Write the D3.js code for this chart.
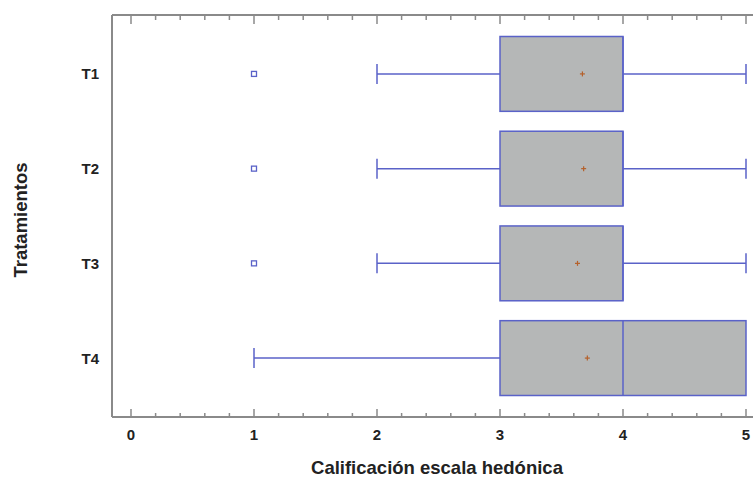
<!DOCTYPE html>
<html><head><meta charset="utf-8">
<script src="https://cdn.jsdelivr.net/npm/d3@7"></script>
<style>body{margin:0;background:#fff}svg{display:block}text{font-family:"Liberation Sans",Arial,sans-serif;font-weight:bold;fill:#222}</style>
</head><body><svg id="c" width="753" height="482"></svg>
<script>
const categories = ["T1","T2","T3","T4"];
const whiskerLow = [2,2,2,1];
const q1 = [3,3,3,3];
const median = [4,4,4,4];
const q3 = [4,4,4,5];
const whiskerHigh = [5,5,5,5];
const means = [3.67,3.68,3.63,3.71];
const outliers = [[1],[1],[1],[]];
const xTicks = [0,1,2,3,4,5];

const svg = d3.select("#c");
const x = d3.scaleLinear().domain([0,5]).range([131,746]);
const y = d3.scaleBand().domain(categories).range([36.5,395.5]).paddingInner(0.21).paddingOuter(0);
const plotTop = 15, plotBottom = 417, plotLeft = 112, plotRight = 753;
const frame = "#8a8a8a", blue = "#5a62c8", fill = "#b5b7b7";

svg.append("line").attr("x1",plotLeft).attr("x2",plotLeft).attr("y1",plotTop).attr("y2",plotBottom).attr("stroke",frame).attr("stroke-width",2);
svg.append("line").attr("x1",plotLeft).attr("x2",plotRight).attr("y1",plotTop).attr("y2",plotTop).attr("stroke",frame).attr("stroke-width",2);
svg.append("line").attr("x1",plotLeft).attr("x2",plotRight).attr("y1",plotBottom).attr("y2",plotBottom).attr("stroke",frame).attr("stroke-width",2);

const minor = d3.range(0,5.0001,0.2).map(v=>+v.toFixed(1));
minor.forEach(v=>{
  const major = Math.abs(v-Math.round(v))<1e-6;
  svg.append("line").attr("x1",x(v)).attr("x2",x(v)).attr("y1",plotTop).attr("y2",plotTop+(major?9:5)).attr("stroke",frame).attr("stroke-width",1.5);
  svg.append("line").attr("x1",x(v)).attr("x2",x(v)).attr("y1",plotBottom).attr("y2",plotBottom-(major?8:4)).attr("stroke",frame).attr("stroke-width",1.5);
});
svg.selectAll(".xt").data(xTicks).enter().append("text")
  .attr("x",d=>x(d)).attr("y",440).attr("text-anchor","middle").attr("font-size",15).text(d=>d);

svg.selectAll(".yl").data(categories).enter().append("text")
  .attr("x",99).attr("y",d=>y(d)+y.bandwidth()/2+5.5).attr("text-anchor","end").attr("font-size",15).text(d=>d);

svg.append("text").attr("x",437).attr("y",474).attr("text-anchor","middle").attr("font-size",18.5).text("Calificación escala hedónica");
svg.append("text").attr("transform","translate(27,220) rotate(-90)").attr("text-anchor","middle").attr("font-size",18.5).text("Tratamientos");

const capH = 20;
categories.forEach((c,i)=>{
  const cy = y(c)+y.bandwidth()/2;
  const g = svg.append("g");
  g.append("line").attr("x1",x(whiskerLow[i])).attr("x2",x(q1[i])).attr("y1",cy).attr("y2",cy).attr("stroke",blue).attr("stroke-width",1.5);
  g.append("line").attr("x1",x(whiskerLow[i])).attr("x2",x(whiskerLow[i])).attr("y1",cy-capH/2).attr("y2",cy+capH/2).attr("stroke",blue).attr("stroke-width",1.5);
  if (whiskerHigh[i] > q3[i]) {
    g.append("line").attr("x1",x(q3[i])).attr("x2",x(whiskerHigh[i])).attr("y1",cy).attr("y2",cy).attr("stroke",blue).attr("stroke-width",1.5);
    g.append("line").attr("x1",x(whiskerHigh[i])).attr("x2",x(whiskerHigh[i])).attr("y1",cy-capH/2).attr("y2",cy+capH/2).attr("stroke",blue).attr("stroke-width",1.5);
  }
  g.append("rect").attr("x",x(q1[i])).attr("y",y(c)).attr("width",x(q3[i])-x(q1[i])).attr("height",y.bandwidth())
    .attr("fill",fill).attr("stroke",blue).attr("stroke-width",1.5);
  g.append("line").attr("x1",x(median[i])).attr("x2",x(median[i])).attr("y1",y(c)).attr("y2",y(c)+y.bandwidth()).attr("stroke",blue).attr("stroke-width",1.5);
  const mx = x(means[i]);
  g.append("line").attr("x1",mx-2.5).attr("x2",mx+2.5).attr("y1",cy).attr("y2",cy).attr("stroke","#b5602a").attr("stroke-width",1.2);
  g.append("line").attr("x1",mx).attr("x2",mx).attr("y1",cy-2.5).attr("y2",cy+2.5).attr("stroke","#b5602a").attr("stroke-width",1.2);
  outliers[i].forEach(o=>{
    g.append("rect").attr("x",x(o)-2.5).attr("y",cy-2.5).attr("width",5).attr("height",5).attr("fill","#fff").attr("stroke",blue).attr("stroke-width",1.3);
  });
});
</script></body></html>
